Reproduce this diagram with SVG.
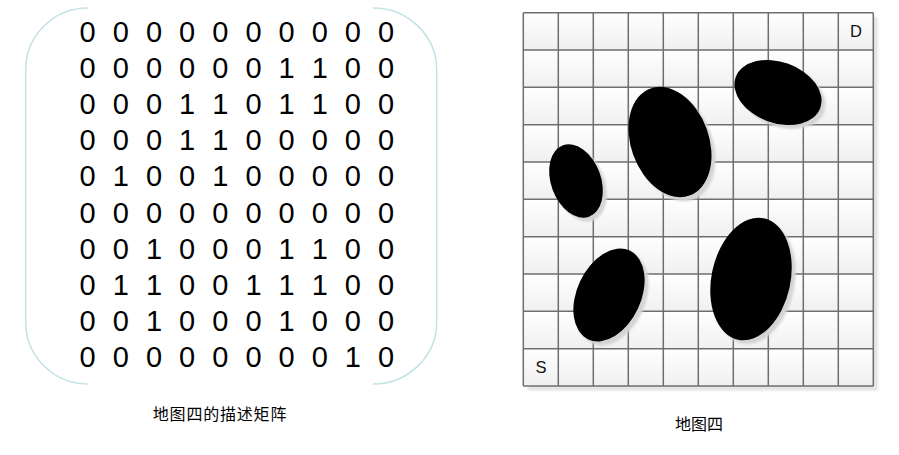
<svg xmlns="http://www.w3.org/2000/svg" width="899" height="455" viewBox="0 0 899 455">
  <defs>
    <style>
      .digit { font-family: "Liberation Sans", Arial, sans-serif; font-size: 29px; fill: #000; }
      .caption { font-family: "Noto Sans CJK SC", "Noto Sans CJK JP", sans-serif; font-size: 16px; fill: #000; text-anchor: middle; }
      .lbl { font-family: "Liberation Sans", Arial, sans-serif; font-size: 16.5px; fill: #111; }
      .frame { fill: none; stroke: #c4e2e6; stroke-width: 1.5; }
      .gridline { stroke: #6e6e6e; stroke-width: 1.5; fill: none; }
      .blob { fill: #000; }
      .blobshadow { fill: #d4d4d4; filter: url(#soft); }
    </style>
    <linearGradient id="cellGrad" x1="0" y1="0" x2="0" y2="1">
      <stop offset="0" stop-color="#ffffff"/>
      <stop offset="1" stop-color="#f0f0f0"/>
    </linearGradient>
    <pattern id="cells" patternUnits="userSpaceOnUse" x="523.3" y="12.7" width="35" height="37.33">
      <rect x="0" y="0" width="35" height="37.33" fill="url(#cellGrad)"/>
    </pattern>
    <filter id="soft" x="-20%" y="-20%" width="140%" height="140%">
      <feGaussianBlur stdDeviation="1.2"/>
    </filter>
  </defs>

  <rect width="899" height="455" fill="#ffffff"/>

  <!-- Left: description matrix -->
  <g id="matrix">
    <path class="frame" d="M 88 8 A 62 62 0 0 0 25.7 70 L 25.7 322 A 62 62 0 0 0 87.7 384"/>
    <path class="frame" d="M 373 8 A 63.7 62 0 0 1 436.7 70 L 436.7 322 A 63.7 62 0 0 1 373 384"/>
    <g id="matrix-rows">
      <text class="digit" y="42.3"><tspan x="79.6">0</tspan> <tspan x="112.8">0</tspan> <tspan x="145.9">0</tspan> <tspan x="179.1">0</tspan> <tspan x="212.2">0</tspan> <tspan x="245.4">0</tspan> <tspan x="278.5">0</tspan> <tspan x="311.7">0</tspan> <tspan x="344.8">0</tspan> <tspan x="378">0</tspan></text>
      <text class="digit" y="78.34"><tspan x="79.6">0</tspan> <tspan x="112.8">0</tspan> <tspan x="145.9">0</tspan> <tspan x="179.1">0</tspan> <tspan x="212.2">0</tspan> <tspan x="245.4">0</tspan> <tspan x="278.5">1</tspan> <tspan x="311.7">1</tspan> <tspan x="344.8">0</tspan> <tspan x="378">0</tspan></text>
      <text class="digit" y="114.38"><tspan x="79.6">0</tspan> <tspan x="112.8">0</tspan> <tspan x="145.9">0</tspan> <tspan x="179.1">1</tspan> <tspan x="212.2">1</tspan> <tspan x="245.4">0</tspan> <tspan x="278.5">1</tspan> <tspan x="311.7">1</tspan> <tspan x="344.8">0</tspan> <tspan x="378">0</tspan></text>
      <text class="digit" y="150.42"><tspan x="79.6">0</tspan> <tspan x="112.8">0</tspan> <tspan x="145.9">0</tspan> <tspan x="179.1">1</tspan> <tspan x="212.2">1</tspan> <tspan x="245.4">0</tspan> <tspan x="278.5">0</tspan> <tspan x="311.7">0</tspan> <tspan x="344.8">0</tspan> <tspan x="378">0</tspan></text>
      <text class="digit" y="186.46"><tspan x="79.6">0</tspan> <tspan x="112.8">1</tspan> <tspan x="145.9">0</tspan> <tspan x="179.1">0</tspan> <tspan x="212.2">1</tspan> <tspan x="245.4">0</tspan> <tspan x="278.5">0</tspan> <tspan x="311.7">0</tspan> <tspan x="344.8">0</tspan> <tspan x="378">0</tspan></text>
      <text class="digit" y="222.5"><tspan x="79.6">0</tspan> <tspan x="112.8">0</tspan> <tspan x="145.9">0</tspan> <tspan x="179.1">0</tspan> <tspan x="212.2">0</tspan> <tspan x="245.4">0</tspan> <tspan x="278.5">0</tspan> <tspan x="311.7">0</tspan> <tspan x="344.8">0</tspan> <tspan x="378">0</tspan></text>
      <text class="digit" y="258.54"><tspan x="79.6">0</tspan> <tspan x="112.8">0</tspan> <tspan x="145.9">1</tspan> <tspan x="179.1">0</tspan> <tspan x="212.2">0</tspan> <tspan x="245.4">0</tspan> <tspan x="278.5">1</tspan> <tspan x="311.7">1</tspan> <tspan x="344.8">0</tspan> <tspan x="378">0</tspan></text>
      <text class="digit" y="294.58"><tspan x="79.6">0</tspan> <tspan x="112.8">1</tspan> <tspan x="145.9">1</tspan> <tspan x="179.1">0</tspan> <tspan x="212.2">0</tspan> <tspan x="245.4">1</tspan> <tspan x="278.5">1</tspan> <tspan x="311.7">1</tspan> <tspan x="344.8">0</tspan> <tspan x="378">0</tspan></text>
      <text class="digit" y="330.62"><tspan x="79.6">0</tspan> <tspan x="112.8">0</tspan> <tspan x="145.9">1</tspan> <tspan x="179.1">0</tspan> <tspan x="212.2">0</tspan> <tspan x="245.4">0</tspan> <tspan x="278.5">1</tspan> <tspan x="311.7">0</tspan> <tspan x="344.8">0</tspan> <tspan x="378">0</tspan></text>
      <text class="digit" y="366.66"><tspan x="79.6">0</tspan> <tspan x="112.8">0</tspan> <tspan x="145.9">0</tspan> <tspan x="179.1">0</tspan> <tspan x="212.2">0</tspan> <tspan x="245.4">0</tspan> <tspan x="278.5">0</tspan> <tspan x="311.7">0</tspan> <tspan x="344.8">1</tspan> <tspan x="378">0</tspan></text>
    </g>
    <text id="caption-matrix" class="caption" x="220" y="420" letter-spacing="0.8">地图四的描述矩阵</text>
  </g>

  <!-- Right: map grid -->
  <g id="map">
    <rect x="527.8" y="17.2" width="350" height="373.3" fill="#e4e4e4" filter="url(#soft)"/>
    <rect x="523.3" y="12.7" width="350" height="373.3" fill="url(#cells)"/>
    <path class="gridline" d="M523.3 12.7 V386 M558.3 12.7 V386 M593.3 12.7 V386 M628.3 12.7 V386 M663.3 12.7 V386 M698.3 12.7 V386 M733.3 12.7 V386 M768.3 12.7 V386 M803.3 12.7 V386 M838.3 12.7 V386 M873.3 12.7 V386"/>
    <path class="gridline" d="M523.3 12.7 H873.3 M523.3 50 H873.3 M523.3 87.3 H873.3 M523.3 124.7 H873.3 M523.3 162 H873.3 M523.3 199.3 H873.3 M523.3 236.7 H873.3 M523.3 274 H873.3 M523.3 311.3 H873.3 M523.3 348.7 H873.3 M523.3 386 H873.3"/>
    <text id="label-D" class="lbl" x="850" y="37">D</text>
    <text id="label-S" class="lbl" x="535.5" y="373">S</text>

    <g id="obstacle-1">
      <ellipse class="blobshadow" cx="580" cy="185" rx="25" ry="38" transform="rotate(-20 580 185)"/>
      <ellipse class="blob" cx="576" cy="181" rx="25" ry="38" transform="rotate(-20 576 181)"/>
    </g>
    <g id="obstacle-2">
      <ellipse class="blobshadow" cx="674" cy="146" rx="39" ry="57" transform="rotate(-20 674 146)"/>
      <ellipse class="blob" cx="670" cy="142" rx="39" ry="57" transform="rotate(-20 670 142)"/>
    </g>
    <g id="obstacle-3">
      <ellipse class="blobshadow" cx="782" cy="96.5" rx="45" ry="30.5" transform="rotate(20 782 96.5)"/>
      <ellipse class="blob" cx="778" cy="92.5" rx="45" ry="30.5" transform="rotate(20 778 92.5)"/>
    </g>
    <g id="obstacle-4">
      <ellipse class="blobshadow" cx="613" cy="299" rx="32" ry="49" transform="rotate(25 613 299)"/>
      <ellipse class="blob" cx="609" cy="295" rx="32" ry="49" transform="rotate(25 609 295)"/>
    </g>
    <g id="obstacle-5">
      <ellipse class="blobshadow" cx="755" cy="283" rx="39.5" ry="62" transform="rotate(12 755 283)"/>
      <ellipse class="blob" cx="751" cy="279" rx="39.5" ry="62" transform="rotate(12 751 279)"/>
    </g>

    <text id="caption-map" class="caption" x="699" y="430">地图四</text>
  </g>
</svg>
